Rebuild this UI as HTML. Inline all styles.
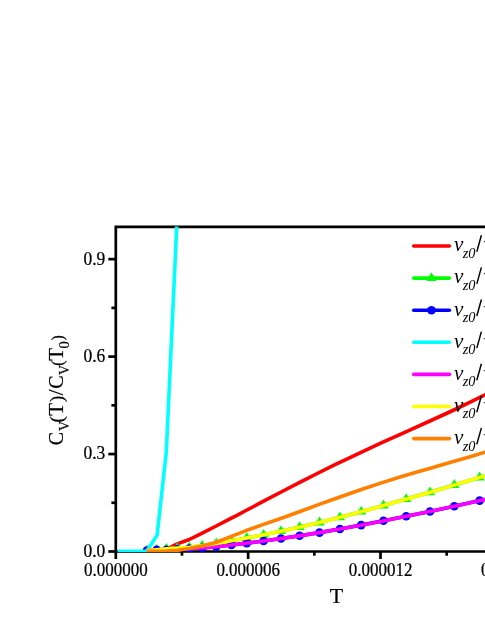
<!DOCTYPE html>
<html><head><meta charset="utf-8"><title>chart</title>
<style>
html,body{margin:0;padding:0;background:#fff;}
body{width:485px;height:627px;overflow:hidden;}
svg{display:block;will-change:transform;}
text{font-family:"Liberation Serif",serif;fill:#000;}
.tk{stroke:#000;stroke-width:0.25px;}
.ti{stroke:#000;stroke-width:0.2px;}
.tk{font-size:16.8px;}
.ti{font-size:21px;}
.lg{font-size:21px;font-style:italic;}
.ln{fill:none;stroke-width:3.6;stroke-linejoin:round;}
.rc{stroke-linecap:round;}
</style></head><body>
<svg width="485" height="627" viewBox="0 0 485 627">
<rect width="485" height="627" fill="#fff"/>
<defs><clipPath id="cp"><rect x="117.6" y="226.4" width="400" height="325.6"/></clipPath></defs>

<g stroke="#000" stroke-width="2.7" fill="none" stroke-linecap="butt">
<path d="M115.8 225.55 V559 M114.45 226.9 H490 M114.45 551.5 H490"/>
<path d="M181.97 551.5 V555.7"/>
<path d="M248.15 551.5 V559"/>
<path d="M314.32 551.5 V555.7"/>
<path d="M380.50 551.5 V559"/>
<path d="M446.68 551.5 V555.7"/>
<path d="M512.85 551.5 V559"/>
<path d="M579.02 551.5 V555.7"/>
<path d="M108.3 551.50 H115.8"/>
<path d="M111.4 502.77 H115.8"/>
<path d="M108.3 454.05 H115.8"/>
<path d="M111.4 405.32 H115.8"/>
<path d="M108.3 356.60 H115.8"/>
<path d="M111.4 307.88 H115.8"/>
<path d="M108.3 259.15 H115.8"/>
</g>
<text class="tk" style="font-size:18.8px" transform="translate(105.3 556.9) scale(0.93 1)" text-anchor="end">0.0</text>
<text class="tk" style="font-size:18.8px" transform="translate(105.3 459.4) scale(0.93 1)" text-anchor="end">0.3</text>
<text class="tk" style="font-size:18.8px" transform="translate(105.3 362.0) scale(0.93 1)" text-anchor="end">0.6</text>
<text class="tk" style="font-size:18.8px" transform="translate(105.3 264.5) scale(0.93 1)" text-anchor="end">0.9</text>
<text class="tk" style="font-size:19.2px" transform="translate(115.9 576.1) scale(0.885 1)" text-anchor="middle">0.000000</text>
<text class="tk" style="font-size:19.2px" transform="translate(248.2 576.1) scale(0.885 1)" text-anchor="middle">0.000006</text>
<text class="tk" style="font-size:19.2px" transform="translate(380.6 576.1) scale(0.885 1)" text-anchor="middle">0.000012</text>
<text class="tk" style="font-size:19.2px" transform="translate(512.9 576.1) scale(0.885 1)" text-anchor="middle">0.000018</text>
<text class="ti" style="font-size:22px" x="336.6" y="603" text-anchor="middle">T</text>
<text class="ti" transform="translate(62.5 444.9) rotate(-90)"><tspan x="-0.45" y="0" font-size="20">C</tspan><tspan x="13.95" y="6" font-size="14">V</tspan><tspan x="22.4" y="0" font-size="19">(</tspan><tspan x="29.1" y="0" font-size="21">T</tspan><tspan x="42.8" y="0" font-size="19">)</tspan><tspan x="49.65" y="0" font-size="21">/</tspan><tspan x="56.1" y="0" font-size="20">C</tspan><tspan x="70.0" y="6" font-size="14">V</tspan><tspan x="79.1" y="0" font-size="16">(</tspan><tspan x="84.1" y="0" font-size="21">T</tspan><tspan x="96.4" y="6" font-size="14.5">0</tspan><tspan x="104.3" y="0" font-size="16">)</tspan></text>
<g clip-path="url(#cp)">
<polyline class="ln" stroke="#f00" points="146.9,551.3 156.7,550.8 166.4,549.3 177.3,543.9 189.3,539.5 202.2,533.2 216.2,526.0 231.4,518.1 236.0,515.8 245.0,511.0 263.6,501.2 282.1,491.5 300.7,481.9 319.2,472.5 335.0,464.7 343.6,460.6 362.1,451.8 380.7,443.2 399.2,434.8 413.6,428.4 432.1,420.0 450.7,411.5 469.2,402.7 485.0,394.8 505.5,383.7"/>
<polyline class="ln" stroke="#0f0" points="146.9,550.6 156.7,549.8 166.4,548.9 177.3,548.1 189.3,547.4 202.2,545.6 216.2,543.5 231.4,540.8 246.8,538.0 263.6,534.8 281.0,531.2 299.6,527.1 319.5,522.4 339.9,517.3 361.2,511.7 383.5,505.5 406.2,499.1 430.0,492.3 454.3,485.0 479.6,477.5 505.5,470.0"/>
<path fill="#0f0" d="M146.9 544.7 L152.0 553.5 L141.8 553.5 Z"/>
<path fill="#0f0" d="M156.7 543.9 L161.8 552.7 L151.6 552.7 Z"/>
<path fill="#0f0" d="M166.4 543.0 L171.5 551.8 L161.3 551.8 Z"/>
<path fill="#0f0" d="M177.3 542.2 L182.4 551.0 L172.2 551.0 Z"/>
<path fill="#0f0" d="M189.3 541.5 L194.4 550.3 L184.2 550.3 Z"/>
<path fill="#0f0" d="M202.2 539.7 L207.3 548.6 L197.1 548.6 Z"/>
<path fill="#0f0" d="M216.2 537.6 L221.3 546.4 L211.1 546.4 Z"/>
<path fill="#0f0" d="M231.4 535.0 L236.5 543.8 L226.3 543.8 Z"/>
<path fill="#0f0" d="M246.8 532.1 L251.9 541.0 L241.7 541.0 Z"/>
<path fill="#0f0" d="M263.6 528.9 L268.7 537.7 L258.5 537.7 Z"/>
<path fill="#0f0" d="M281.0 525.3 L286.1 534.1 L275.9 534.1 Z"/>
<path fill="#0f0" d="M299.6 521.2 L304.7 530.1 L294.5 530.1 Z"/>
<path fill="#0f0" d="M319.5 516.6 L324.6 525.4 L314.4 525.4 Z"/>
<path fill="#0f0" d="M339.9 511.5 L345.0 520.3 L334.8 520.3 Z"/>
<path fill="#0f0" d="M361.2 505.8 L366.3 514.6 L356.1 514.6 Z"/>
<path fill="#0f0" d="M383.5 499.6 L388.6 508.4 L378.4 508.4 Z"/>
<path fill="#0f0" d="M406.2 493.2 L411.3 502.0 L401.1 502.0 Z"/>
<path fill="#0f0" d="M430.0 486.4 L435.1 495.3 L424.9 495.3 Z"/>
<path fill="#0f0" d="M454.3 479.1 L459.4 488.0 L449.2 488.0 Z"/>
<path fill="#0f0" d="M479.6 471.6 L484.7 480.4 L474.5 480.4 Z"/>
<path fill="#0f0" d="M505.5 464.1 L510.6 472.9 L500.4 472.9 Z"/>
<polyline class="ln" stroke="#00f" points="146.9,550.6 156.7,549.9 166.4,549.7 177.3,549.2 189.3,548.6 202.2,547.9 216.2,546.7 231.4,545.0 246.8,543.1 263.6,541.0 281.0,538.5 299.6,535.8 319.5,532.6 339.9,529.0 361.2,525.1 383.5,520.8 406.2,516.3 430.0,511.5 454.3,506.2 479.6,500.6 505.5,494.8"/>
<circle fill="#00f" cx="146.9" cy="550.6" r="4.3"/>
<circle fill="#00f" cx="156.7" cy="549.9" r="4.3"/>
<circle fill="#00f" cx="166.4" cy="549.7" r="4.3"/>
<circle fill="#00f" cx="177.3" cy="549.2" r="4.3"/>
<circle fill="#00f" cx="189.3" cy="548.6" r="4.3"/>
<circle fill="#00f" cx="202.2" cy="547.9" r="4.3"/>
<circle fill="#00f" cx="216.2" cy="546.7" r="4.3"/>
<circle fill="#00f" cx="231.4" cy="545.0" r="4.3"/>
<circle fill="#00f" cx="246.8" cy="543.1" r="4.3"/>
<circle fill="#00f" cx="263.6" cy="541.0" r="4.3"/>
<circle fill="#00f" cx="281.0" cy="538.5" r="4.3"/>
<circle fill="#00f" cx="299.6" cy="535.8" r="4.3"/>
<circle fill="#00f" cx="319.5" cy="532.6" r="4.3"/>
<circle fill="#00f" cx="339.9" cy="529.0" r="4.3"/>
<circle fill="#00f" cx="361.2" cy="525.1" r="4.3"/>
<circle fill="#00f" cx="383.5" cy="520.8" r="4.3"/>
<circle fill="#00f" cx="406.2" cy="516.3" r="4.3"/>
<circle fill="#00f" cx="430.0" cy="511.5" r="4.3"/>
<circle fill="#00f" cx="454.3" cy="506.2" r="4.3"/>
<circle fill="#00f" cx="479.6" cy="500.6" r="4.3"/>
<circle fill="#00f" cx="505.5" cy="494.8" r="4.3"/>
<polyline class="ln" stroke="#0ff" stroke-linejoin="miter" points="116.0,551.3 146.6,551.3 157.1,535.2 166.3,452.0 176.7,227.0 178.0,199.0"/>
<polyline class="ln" stroke="#f0f" points="146.9,550.6 156.7,549.9 166.4,549.7 177.3,549.2 189.3,548.6 202.2,547.9 216.2,546.7 231.4,545.0 246.8,543.1 263.6,541.0 282.1,538.4 300.7,535.6 319.2,532.6 338.6,529.3 357.1,525.9 375.7,522.4 394.2,518.7 413.6,514.8 432.1,511.0 450.7,507.0 469.2,502.9 485.0,499.4 505.5,494.8"/>
<polyline class="ln" stroke="#ff0" points="146.9,550.6 156.7,549.8 166.4,548.9 177.3,548.1 189.3,547.4 202.2,545.6 216.2,543.5 231.4,540.8 246.8,538.0 263.6,534.8 282.1,531.0 300.7,526.9 319.2,522.5 338.6,517.7 357.1,512.8 375.7,507.7 394.2,502.4 413.6,497.0 432.1,491.7 450.7,486.1 469.2,480.6 485.0,475.9 505.5,470.0"/>
<polyline class="ln" stroke="#ff8000" points="146.9,551.3 166.4,551.0 177.3,550.3 189.3,548.5 202.2,546.0 216.2,542.3 231.4,536.4 246.8,530.3 263.6,524.4 282.1,518.0 300.7,511.2 319.2,504.4 335.0,498.8 343.6,495.7 362.1,489.3 380.7,483.1 399.2,477.2 413.6,473.0 432.1,467.7 450.7,462.2 469.2,456.9 485.0,452.2 505.5,446.1"/>
</g>
<path class="ln rc" stroke="#f00" d="M413.7 246.0 H449.4"/>
<text class="lg" x="454.0" y="251.3">v<tspan font-size="14.3" dy="6.6" dx="-0.6">z0</tspan></text>
<path stroke="#000" stroke-width="1.45" fill="none" d="M476.8 251.8 L481.4 235.3"/>
<text class="lg" x="483.3" y="251.3">v</text>
<path class="ln rc" stroke="#0f0" d="M413.7 278.1 H449.4"/>
<path fill="#0f0" d="M431.5 272.2 L436.6 281.0 L426.4 281.0 Z"/>
<text class="lg" x="454.0" y="283.4">v<tspan font-size="14.3" dy="6.6" dx="-0.6">z0</tspan></text>
<path stroke="#000" stroke-width="1.45" fill="none" d="M476.8 283.9 L481.4 267.4"/>
<text class="lg" x="483.3" y="283.4">v</text>
<path class="ln rc" stroke="#00f" d="M413.7 310.2 H449.4"/>
<circle fill="#00f" cx="431.5" cy="310.2" r="4.3"/>
<text class="lg" x="454.0" y="315.5">v<tspan font-size="14.3" dy="6.6" dx="-0.6">z0</tspan></text>
<path stroke="#000" stroke-width="1.45" fill="none" d="M476.8 316.0 L481.4 299.5"/>
<text class="lg" x="483.3" y="315.5">v</text>
<path class="ln rc" stroke="#0ff" d="M413.7 342.3 H449.4"/>
<text class="lg" x="454.0" y="347.6">v<tspan font-size="14.3" dy="6.6" dx="-0.6">z0</tspan></text>
<path stroke="#000" stroke-width="1.45" fill="none" d="M476.8 348.1 L481.4 331.6"/>
<text class="lg" x="483.3" y="347.6">v</text>
<path class="ln rc" stroke="#f0f" d="M413.7 374.4 H449.4"/>
<text class="lg" x="454.0" y="379.7">v<tspan font-size="14.3" dy="6.6" dx="-0.6">z0</tspan></text>
<path stroke="#000" stroke-width="1.45" fill="none" d="M476.8 380.2 L481.4 363.7"/>
<text class="lg" x="483.3" y="379.7">v</text>
<path class="ln rc" stroke="#ff0" d="M413.7 406.5 H449.4"/>
<text class="lg" x="454.0" y="411.8">v<tspan font-size="14.3" dy="6.6" dx="-0.6">z0</tspan></text>
<path stroke="#000" stroke-width="1.45" fill="none" d="M476.8 412.3 L481.4 395.8"/>
<text class="lg" x="483.3" y="411.8">v</text>
<path class="ln rc" stroke="#ff8000" d="M413.7 438.6 H449.4"/>
<text class="lg" x="454.0" y="443.9">v<tspan font-size="14.3" dy="6.6" dx="-0.6">z0</tspan></text>
<path stroke="#000" stroke-width="1.45" fill="none" d="M476.8 444.4 L481.4 427.9"/>
<text class="lg" x="483.3" y="443.9">v</text>
</svg></body></html>
